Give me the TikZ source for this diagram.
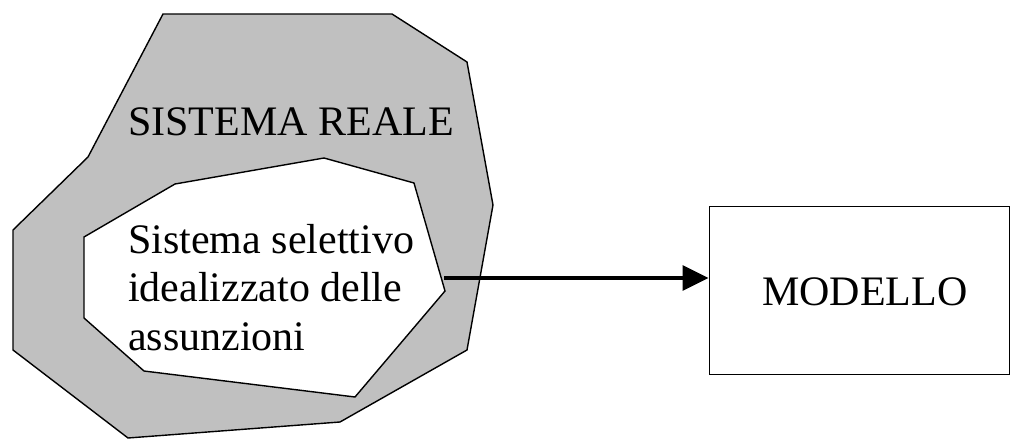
\documentclass[tikz,border=0pt]{standalone}
\usepackage{fontspec}
\setmainfont{Liberation Serif}
\usetikzlibrary{arrows.meta}
\definecolor{regiongray}{RGB}{192,192,192}
\begin{document}
\begin{tikzpicture}[x=1pt,y=-1pt,
  bigtext/.style={font=\fontsize{42}{48.3}\selectfont, inner sep=0pt, anchor=base west},
  region/.style={draw=black, line width=1.4pt, line join=miter},
  modelbox/.style={draw=black, line width=1.4pt, inner sep=0pt, minimum width=300pt, minimum height=168pt},
  flow/.style={line width=3.3pt, -{Triangle[length=26pt,width=25pt]}}]
\useasboundingbox (0,0) rectangle (1010,439);
% real system: grey outer region
\draw[region, fill=regiongray]
  (163,14) -- (392,14) -- (467,62) -- (493,205) -- (467,350) -- (340,422)
  -- (128,438) -- (13,350) -- (13,230) -- (88,157) -- cycle;
% idealised selective system: white inner region
\draw[region, fill=white]
  (175,184) -- (324,158) -- (414,183) -- (445,291) -- (355,397)
  -- (144,371) -- (84,318) -- (84,237) -- cycle;
\node[bigtext] (real) at (128,135) {SISTEMA REALE};
\node[bigtext] (sel1) at (128,253.5) {Sistema selettivo};
\node[bigtext] (sel2) at (128,301.8) {idealizzato delle};
\node[bigtext] (sel3) at (128,350.1) {assunzioni};
% model box
\node[modelbox, anchor=north west] (model) at (708.5,205.5) {};
\node[bigtext] (modeltext) at (762,305) {MODELLO};
\coordinate (start) at (444,278);
\draw[flow] (start) -- (start -| model.west);
\end{tikzpicture}
\end{document}
